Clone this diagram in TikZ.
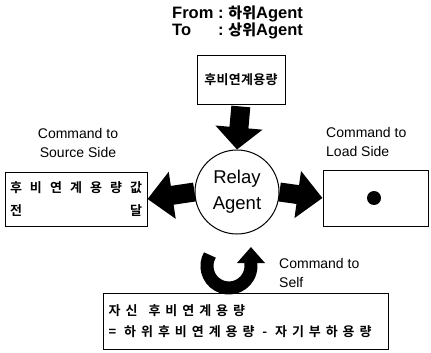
\documentclass[tikz,border=0pt]{standalone}
\usepackage{fontspec}
\setmainfont{Liberation Sans}
\newfontfamily\kr{Noto Sans CJK KR Bold}[LetterSpace=2]
\newfontfamily\krw{Noto Sans CJK KR Bold}[LetterSpace=38]
\usetikzlibrary{arrows.meta}
\begin{document}
\begin{tikzpicture}[x=1pt,y=-1pt,
  box/.style={draw, line width=1pt, inner sep=0pt},
  lbl/.style={font=\fontsize{14}{18.5}\selectfont, align=left, inner sep=0pt},
  kor/.style={font=\fontsize{13}{15}\selectfont\kr, inner sep=0pt},
  blockarrow/.style={line width=19pt, -{Triangle[width=46pt,length=22pt]}},
]
\useasboundingbox[fill=white] (0,0) rectangle (431,353);

% From / To
\node[inner sep=0pt, anchor=west, font=\fontsize{16.5}{19}\selectfont\bfseries] (fromto) at (172,23)
  {\begin{tabular}{@{}p{46pt}@{:\ }l@{}}From & {\kr\fontsize{15}{15}\selectfont 하위}Agent\\[-2pt] To & {\kr\fontsize{15}{15}\selectfont 상위}Agent\end{tabular}};

% top box
\node[box, minimum width=88, minimum height=48] (top) at (241,80) {};
\node[kor] (toptxt) at (top.center) {후비연계용량};

% relay agent
\node[circle, draw, line width=1pt, minimum size=84, inner sep=0pt, align=center,
      font=\fontsize{18.5}{26}\selectfont] (relay) at (237,192) {Relay\\Agent};

% left box
\node[box, minimum width=142, minimum height=54] (lbox) at (76,199) {};
\node[kor, text width=132, align=left] (ltxt) at (lbox.center)
  {\makebox[132pt][s]{후\hfill 비\hfill 연\hfill 계\hfill 용\hfill 량\hfill 값}\\[8pt]\makebox[132pt][s]{전\hfill 달}};

% right box
\node[box, minimum width=105, minimum height=56] (rbox) at (375.5,198) {};
\node[circle, fill, minimum size=14, inner sep=0pt] (dot) at (374,198) {};

% bottom box
\node[box, minimum width=285, minimum height=56] (bbox) at (245.5,321) {};
\node[font=\fontsize{13}{15}\selectfont\krw, inner sep=0pt, anchor=west, align=left] (btxt) at ([xshift=6pt]bbox.west)
  {자신\hspace{11pt}후비연계용량\\[6pt]= 하위후비연계용량 - 자기부하용량};

% labels
\node[lbl, align=center] (srclbl) at (78,143) {Command to\\Source Side};
\node[lbl, anchor=west] (loadlbl) at (326,142) {Command to\\Load Side};
\node[lbl, anchor=west] (selflbl) at (279,273) {Command to\\Self};

% block arrows
\draw[blockarrow, shorten <=2pt] (top.south) -- (relay.north);
\draw[blockarrow, -{Triangle[width=46pt,length=25pt]}] (relay.west) -- (lbox.east);
\draw[blockarrow, -{Triangle[width=46pt,length=25pt]}] (relay.east) -- (rbox.west);

% self loop
\coordinate (selfA) at (209.9,255);
\draw[line width=13pt, -{Triangle[width=27pt,length=16pt]}]
  (selfA) arc[start angle=210, end angle=0, radius=22] -- ++(0,-19);
\end{tikzpicture}
\end{document}
